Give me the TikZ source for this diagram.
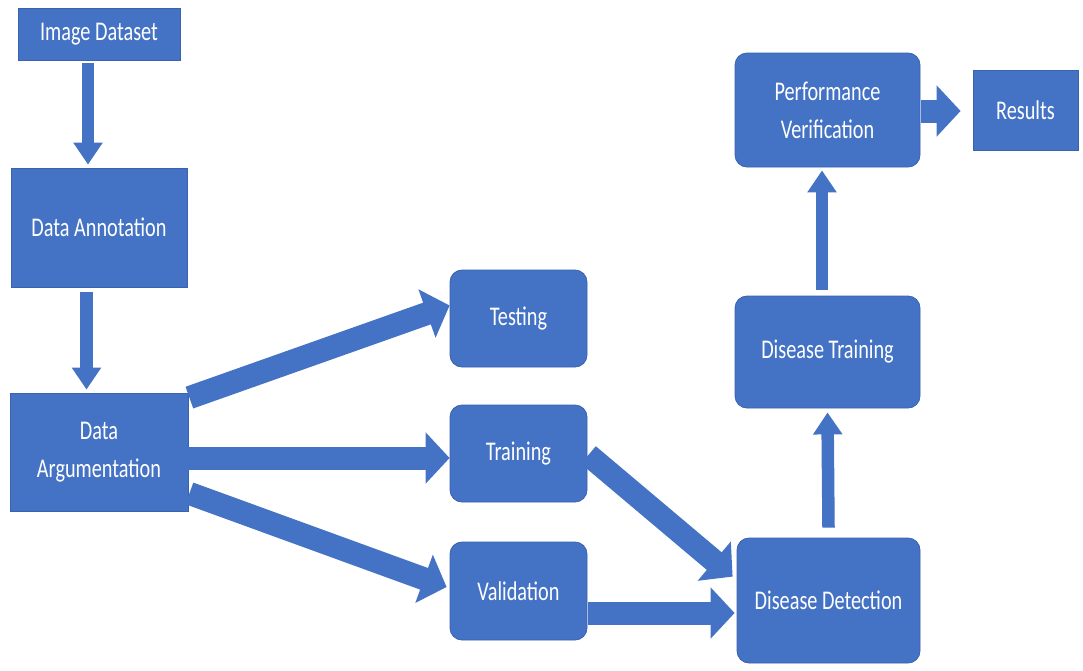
\documentclass[tikz,border=0pt]{standalone}
\usepackage{fontspec}
\setmainfont{Carlito}[FakeStretch=0.75]
\usetikzlibrary{arrows.meta}
\definecolor{boxblue}{HTML}{4472C4}
\definecolor{edgeblue}{HTML}{3A62AD}
\begin{document}
\begin{tikzpicture}[x=1pt,y=-1pt,
  box/.style={fill=boxblue,draw=edgeblue,line width=0.8pt,text=white,
    align=center,inner sep=0pt,font=\fontsize{27}{38}\selectfont},
  rbox/.style={box,rounded corners=12pt},
  vflow/.style={draw=boxblue,line width=12.5pt,
    -{Triangle[width=28pt,length=22pt]}},
  hflow/.style={draw=boxblue,line width=23pt,
    -{Triangle[width=50pt,length=24pt]}}]
\useasboundingbox (0,0) rectangle (1083,670);

% process steps
\node[box,minimum width=162pt,minimum height=52pt] (img) at (99,34) {Image Dataset};
\node[box,minimum width=176pt,minimum height=119pt] (ann) at (99,227.5) {Data Annotation};
\node[box,minimum width=178pt,minimum height=118pt] (arg) at (99,452) {Data\\Argumentation};
\node[rbox,minimum width=137pt,minimum height=97pt] (test) at (518.5,318.5) {Testing};
\node[rbox,minimum width=137pt,minimum height=97pt] (train) at (518.5,453.5) {Training};
\node[rbox,minimum width=137pt,minimum height=98pt] (val) at (518.5,591) {Validation};
\node[rbox,minimum width=183pt,minimum height=125pt] (dd) at (828.5,600.5) {Disease Detection};
\node[rbox,minimum width=185pt,minimum height=112pt] (dt) at (827.5,352) {Disease Training};
\node[rbox,minimum width=185pt,minimum height=114pt] (pv) at (827.5,110) {Performance\\Verification};
\node[box,minimum width=105pt,minimum height=80pt] (res) at (1025.5,110) {Results};

% block arrows between the steps
\draw[vflow] ([xshift=-11pt,yshift=-3pt]img.south) -- ([xshift=-11pt,yshift=3pt]ann.north);
\draw[vflow] ([xshift=-12.5pt,yshift=-5pt]ann.south) -- ([xshift=-12.5pt,yshift=3pt]arg.north);
\draw[hflow] ([xshift=1pt,yshift=-5pt]arg.north east) -- ([yshift=13pt]test.west);
\draw[hflow] ([yshift=-6pt]arg.east) -- ([yshift=-4.5pt]train.west);
\draw[hflow] ([xshift=1pt,yshift=18pt]arg.south east) -- ([xshift=-3pt,yshift=4pt]val.west);
\draw[hflow] ([xshift=1pt,yshift=-1.5pt]train.east) -- ([xshift=-4pt,yshift=-39pt]dd.north west);
\draw[hflow] ([xshift=1pt,yshift=-22pt]val.east) -- ([xshift=-2pt,yshift=-12.5pt]dd.west);
\draw[vflow] ([yshift=10pt]dd.north) -- ([yshift=-4pt]dt.south);
\draw[vflow] ([xshift=-5.5pt,yshift=6pt]dt.north) -- ([xshift=-5.5pt,yshift=-3pt]pv.south);
\draw[hflow] ([xshift=1pt,yshift=-1pt]pv.east) -- ([xshift=-12pt,yshift=-1pt]res.west);
\end{tikzpicture}
\end{document}
